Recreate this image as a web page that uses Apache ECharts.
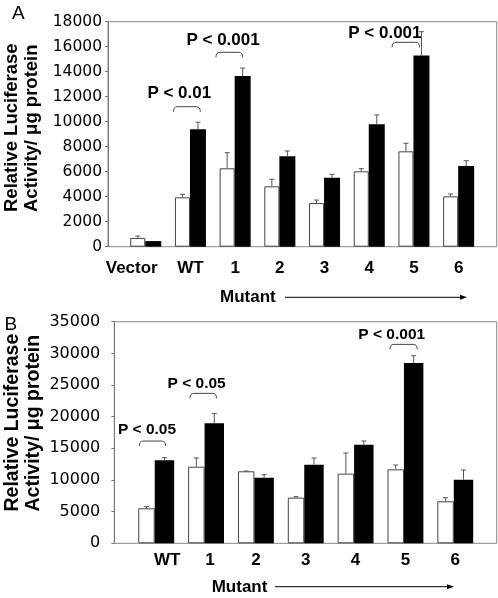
<!DOCTYPE html>
<html><head><meta charset="utf-8">
<script src="https://cdn.jsdelivr.net/npm/echarts@6/dist/echarts.min.js"></script>
<style>html,body{margin:0;padding:0;background:#fff}#c{width:498px;height:598px}</style>
</head><body><div id="c"></div>
<script>
// ---------- Panel A data ----------
const catsA = ['Vector', 'WT', '1', '2', '3', '4', '5', '6'];
const whiteA = [700, 3950, 6270, 4830, 3490, 6030, 7630, 4030];
const whiteErrA = [150, 240, 1250, 560, 240, 210, 640, 190];
const blackA = [450, 9400, 13650, 7230, 5520, 9790, 15300, 6450];
const blackErrA = [0, 560, 640, 430, 270, 750, 1900, 430];
const yMaxA = 18000, yStepA = 2000;
const pLabelsA = ['P < 0.01', 'P < 0.001', 'P < 0.001'];
const pGroupsA = ['WT', '1', '5'];
const pBracketA = [11200, 15550, 16350];
const pTextA = [12300, 16550, 17100];

// ---------- Panel B data ----------
const catsB = ['WT', '1', '2', '3', '4', '5', '6'];
const whiteB = [5530, 12100, 11370, 7210, 11000, 11680, 6630];
const whiteErrB = [260, 1370, 50, 160, 3260, 680, 580];
const blackB = [13100, 18950, 10370, 12420, 15580, 28470, 10050];
const blackErrB = [420, 1530, 470, 1050, 580, 1160, 1530];
const yMaxB = 35000, yStepB = 5000;
const pLabelsB = ['P < 0.05', 'P < 0.05', 'P < 0.001'];
const pGroupsB = ['WT', '1', '5'];
const pBracketB = [16150, 23680, 31420];
const pTextB = [17970, 25180, 32930];

const yTitle = 'Relative Luciferase\nActivity/ μg protein';
const xTitle = 'Mutant';

// ---------- layout / style ----------
const BOLD = 'Liberation Sans, Arial, Helvetica, sans-serif';
const TICKF = 'DejaVu Sans, sans-serif';
const ERRC = '#555';

function errRender(which, wW, bW) {
  return function (params, api) {
    const err = api.value(2);
    if (!(err > 0)) return;
    const band = api.size([1, 0])[0];
    const top = api.coord([api.value(0), api.value(1)]);
    const hi = api.coord([api.value(0), api.value(1) + err]);
    const total = (wW + bW) * band;
    const cx = which === 0
      ? top[0] - total / 2 + wW * band / 2
      : top[0] - total / 2 + wW * band + bW * band / 2;
    const cap = 2.5;
    return { type: 'group', children: [
      { type: 'line', shape: { x1: cx, y1: top[1], x2: cx, y2: hi[1] }, style: { stroke: ERRC, lineWidth: 1 } },
      { type: 'line', shape: { x1: cx - cap, y1: hi[1], x2: cx + cap, y2: hi[1] }, style: { stroke: ERRC, lineWidth: 1 } }
    ] };
  };
}

function annRender(labels, offsets, fontSize) {
  return function (params, api) {
    const i = params.dataIndex;
    const b = api.coord([api.value(0), api.value(1)]);
    const t = api.coord([api.value(0), api.value(2)]);
    const band = api.size([1, 0])[0];
    const o = offsets[i];
    const x0 = b[0] + o[0] * band, x1 = b[0] + o[1] * band, y = b[1];
    const h = 5, r = 4;
    const st = { stroke: '#444', lineWidth: 1, fill: null };
    return { type: 'group', children: [
      { type: 'bezierCurve', shape: { x1: x0, y1: y + h, cpx1: x0, cpy1: y, x2: x0 + r, y2: y }, style: st },
      { type: 'line', shape: { x1: x0 + r, y1: y, x2: x1 - r, y2: y }, style: st },
      { type: 'bezierCurve', shape: { x1: x1 - r, y1: y, cpx1: x1, cpy1: y, x2: x1, y2: y + h }, style: st },
      { type: 'text', x: b[0] + o[2] * band, y: t[1],
        style: { text: labels[i], fontSize: fontSize, fontWeight: 'bold', fontFamily: BOLD,
                 fill: '#000', align: 'center', verticalAlign: 'middle' } }
    ] };
  };
}

function panel(cfg) {
  const g0 = cfg.gridBase, g1 = cfg.gridBase + 1;
  const grids = [
    { left: cfg.frame.left, top: cfg.frame.top, width: cfg.frame.width, height: cfg.frame.height,
      show: true, borderColor: '#888', borderWidth: 1, outerBoundsMode: 'none', containLabel: false },
    { left: cfg.bars.left, top: cfg.frame.top, width: cfg.bars.width, height: cfg.frame.height,
      outerBoundsMode: 'none', containLabel: false }
  ];
  const xAxes = [
    { gridIndex: g0, type: 'value', show: false, min: 0, max: 1 },
    { gridIndex: g1, type: 'category', data: cfg.catData,
      axisLine: { show: false }, axisTick: { show: false }, splitLine: { show: false },
      axisLabel: { interval: 0, margin: cfg.catMargin, color: '#000', fontSize: 17, fontWeight: 'bold', fontFamily: BOLD } }
  ];
  const yAxes = [
    { gridIndex: g0, type: 'value', min: 0, max: cfg.yMax, interval: cfg.yStep,
      axisLine: { show: true, lineStyle: { color: '#777', width: 1 } },
      axisTick: { show: true, inside: false, length: 3, lineStyle: { color: '#777' } },
      splitLine: { show: false },
      axisLabel: { margin: cfg.tickMargin, color: '#000', fontSize: cfg.tickFont, fontFamily: TICKF,
                   formatter: v => String(v) } },
    { gridIndex: g1, type: 'value', min: 0, max: cfg.yMax, show: false, splitLine: { show: false } }
  ];
  const idx = cfg.cats;
  const series = [
    { type: 'bar', xAxisIndex: g1, yAxisIndex: g1, data: cfg.white, barWidth: (cfg.wW * 100) + '%', barGap: '0%',
      itemStyle: { color: '#fff', borderColor: '#444', borderWidth: 1 }, silent: true },
    { type: 'bar', xAxisIndex: g1, yAxisIndex: g1, data: cfg.black, barWidth: (cfg.bW * 100) + '%', barGap: '0%',
      itemStyle: { color: '#000' }, silent: true },
    { type: 'custom', xAxisIndex: g1, yAxisIndex: g1, renderItem: errRender(0, cfg.wW, cfg.bW),
      data: cfg.white.map((v, i) => [i, v, cfg.whiteErr[i]]), z: 5, silent: true },
    { type: 'custom', xAxisIndex: g1, yAxisIndex: g1, renderItem: errRender(1, cfg.wW, cfg.bW),
      data: cfg.black.map((v, i) => [i, v, cfg.blackErr[i]]), z: 5, silent: true },
    { type: 'custom', xAxisIndex: g1, yAxisIndex: g1, renderItem: annRender(cfg.pLabels, cfg.annOffsets, cfg.pFont),
      data: cfg.pGroups.map((g, i) => [idx.indexOf(g), cfg.pBracket[i], cfg.pText[i]]), z: 6, silent: true }
  ];
  return { grids, xAxes, yAxes, series };
}

const A = panel({
  gridBase: 0, cats: catsA,
  catData: catsA.map(c => c === 'Vector' ? { value: c, textStyle: { padding: [0, 28, 0, 0] } } : c),
  frame: { left: 108, top: 21.7, width: 388.7, height: 225 },
  bars: { left: 123.4, width: 357.6 },
  yMax: yMaxA, yStep: yStepA, tickFont: 15.5, tickMargin: 6, catMargin: 13,
  white: whiteA, whiteErr: whiteErrA, black: blackA, blackErr: blackErrA,
  wW: 0.336, bW: 0.358,
  pLabels: pLabelsA, pGroups: pGroupsA, pBracket: pBracketA, pText: pTextA, pFont: 17,
  annOffsets: [[-0.38, 0.22, -0.25], [-0.43, 0.17, -0.27], [-0.49, 0.125, -0.65]]
});
const B = panel({
  gridBase: 2, cats: catsB,
  catData: catsB.map(c => c === 'WT' ? { value: c, textStyle: { padding: [0, 0, 0, 22] } }
                         : c === '1' ? { value: c, textStyle: { padding: [0, 0, 0, 8] } } : c),
  frame: { left: 114.3, top: 321.7, width: 382.4, height: 221.6 },
  bars: { left: 131.3, width: 348.9 },
  yMax: yMaxB, yStep: yStepB, tickFont: 16, tickMargin: 14, catMargin: 9,
  white: whiteB, whiteErr: whiteErrB, black: blackB, blackErr: blackErrB,
  wW: 0.33, bW: 0.39,
  pLabels: pLabelsB, pGroups: pGroupsB, pBracket: pBracketB, pText: pTextB, pFont: 15.5,
  annOffsets: [[-0.34, 0.19, -0.185], [-0.325, 0.21, -0.19], [-0.31, 0.237, -0.275]]
});

function txt(x, y, text, size, weight, align, rot) {
  return { type: 'text', x: x, y: y, rotation: rot || 0,
    style: { text: text, fontSize: size, fontWeight: weight, fontFamily: BOLD, fill: '#000',
             lineHeight: Math.round(size * 1.1),
             align: align, textAlign: align, verticalAlign: 'middle', textVerticalAlign: 'middle' } };
}
function arrow(x0, x1, y) {
  return [
    { type: 'line', shape: { x1: x0, y1: y, x2: x1 - 5, y2: y }, style: { stroke: '#000', lineWidth: 1 } },
    { type: 'polygon', shape: { points: [[x1, y], [x1 - 7, y - 2.5], [x1 - 7, y + 2.5]] }, style: { fill: '#000' } }
  ];
}

const option = {
  animation: false,
  backgroundColor: '#fff',
  grid: [...A.grids, ...B.grids],
  xAxis: [...A.xAxes, ...B.xAxes],
  yAxis: [...A.yAxes, ...B.yAxes],
  series: [...A.series, ...B.series],
  graphic: [
    txt(18.3, 13.7, 'A', 19, 'normal', 'center'),
    txt(10.8, 325, 'B', 19, 'normal', 'center'),
    txt(22, 212, yTitle, 18.5, 'bold', 'left', Math.PI / 2),
    txt(23, 511.5, yTitle, 19.5, 'bold', 'left', Math.PI / 2),
    txt(220, 297.5, xTitle, 17, 'bold', 'left'),
    ...arrow(285, 467, 297.3),
    txt(211.7, 587.5, xTitle, 17, 'bold', 'left'),
    ...arrow(275, 454, 586.7)
  ]
};

const chart = echarts.init(document.getElementById('c'), null, { renderer: 'canvas' });
chart.setOption(option);
</script>
</body></html>
